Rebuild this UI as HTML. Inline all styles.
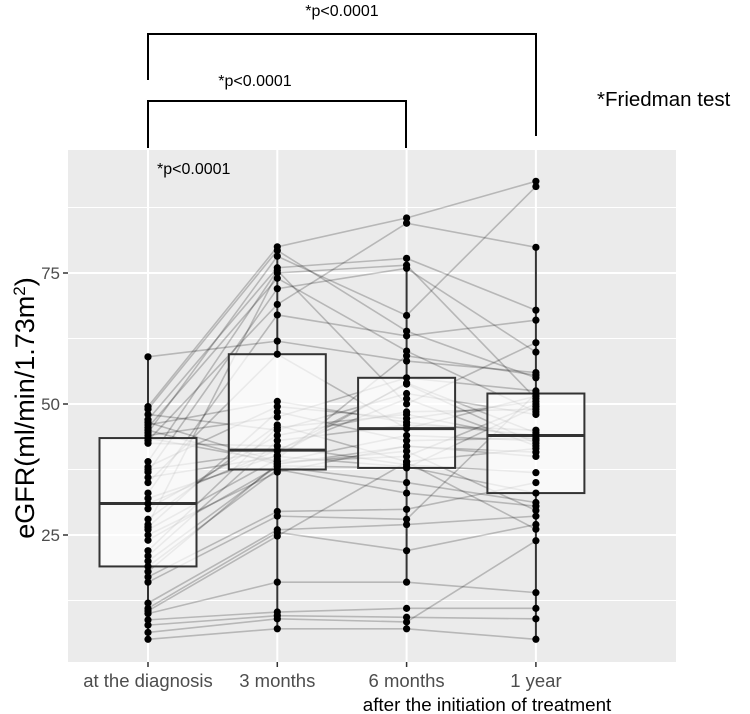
<!DOCTYPE html>
<html><head><meta charset="utf-8"><style>
body{margin:0;background:#fff}
svg{display:block;font-family:"Liberation Sans",Arial,sans-serif}
</style></head><body>
<svg id="chart" width="750" height="714" viewBox="0 0 750 714" xmlns="http://www.w3.org/2000/svg">
<rect x="68" y="150" width="608" height="512" fill="#ebebeb"/>
<g id="grid"></g>
<g id="lines"></g>
<g id="boxes"></g>
<g id="dots"></g>
<g id="axes"></g>
<text transform="translate(34,408) rotate(-90)" text-anchor="middle" font-size="27" fill="#000">eGFR(ml/min/1.73m<tspan baseline-shift="super" font-size="17">2</tspan>)</text>
<text x="487" y="711" text-anchor="middle" font-size="18.8" fill="#000">after the initiation of treatment</text>
<text x="157" y="174" font-size="16" fill="#000">*p&lt;0.0001</text>
<g stroke="#000" stroke-width="2" fill="none">
<polyline points="148,80 148,34 536,34 536,136"/>
</g>
<text x="342" y="16" text-anchor="middle" font-size="16" fill="#000">*p&lt;0.0001</text>
<g stroke="#000" stroke-width="2" fill="none">
<polyline points="148,148 148,101 406,101 406,148"/>
</g>
<text x="255" y="86" text-anchor="middle" font-size="16" fill="#000">*p&lt;0.0001</text>
<text x="597" y="106" font-size="20.5" fill="#000">*Friedman test</text>
</svg>
<script>
const categories = ["at the diagnosis","3 months","6 months","1 year"];
const yTicks = [25,50,75];
const yTickLabels = ["25","50","75"];
const diagnosis = [59,49.5,49,48,47,46.5,46,45.5,45,44.5,44,43.5,43,42.5,39,38,37.5,37,36,35,33,30,28,27,26.5,26,25,24,20,19,18,17,16,12,11,10.5,10,8.8,7.8,6.4,5.1,21,22,31,32];
const month3 = [62,80,79.3,45,76,39,50.5,74,38.5,78.2,47.5,39,69,42,75.5,49.5,41,72,40,59.5,67,44,46,75,48.5,39.5,37,38,38.2,37.5,38.6,29.5,28.6,26,25.5,24.8,16,10.3,9.6,9,7.1,43,45.5,41.2,40.2];
const month6 = [58.2,85.5,63.9,52,77.8,44,46.5,60.1,41.9,66.9,55,40,84.5,38.4,50,47.2,53.8,75.9,38,45.3,63,48.5,39,76.5,43,59.2,42,35,37.8,33,41,29.9,28,27,22,38.9,16,11,9.3,8.4,7.1,46,48,51,54];
const year1 = [56,92.5,55,48,67.9,43,44,48.5,40.8,91.5,52.5,50,79.9,36.9,61.7,50.5,42.5,59.9,33,51.5,66,49,41.5,51,43.5,55.5,40,31.2,49.5,30.5,29.7,35,52,28.6,27,26.1,14,11,9,23.9,5.1,45,43.2,42,44.5];
const series = [diagnosis, month3, month6, year1];

const NS = "http://www.w3.org/2000/svg";
const px0 = 68, px1 = 676, py0 = 150, py1 = 662;
function xScale(i){ return 148 + i * 129.3; }
function yScale(v){ return 666 - v * 5.24; }
function mk(tag, attrs, parent){
  const e = document.createElementNS(NS, tag);
  for (const k in attrs) e.setAttribute(k, attrs[k]);
  parent.appendChild(e); return e;
}
function quant(arr, p){
  const s = arr.slice().sort((a,b)=>a-b);
  const h = (s.length-1)*p, lo = Math.floor(h), hi = Math.ceil(h);
  return s[lo] + (s[hi]-s[lo])*(h-lo);
}
const grid = document.getElementById('grid');
[12.5,37.5,62.5,87.5].forEach(v=>{
  const l = mk('line',{x1:px0,x2:px1,y1:yScale(v),y2:yScale(v),stroke:'#fff','stroke-width':1},grid);
  
  
});
yTicks.forEach(v=>{
  const l = mk('line',{x1:px0,x2:px1,y1:yScale(v),y2:yScale(v),stroke:'#fff','stroke-width':2},grid);
  
  
});
categories.forEach((c,i)=>{
  const l = mk('line',{x1:xScale(i),x2:xScale(i),y1:py0,y2:py1,stroke:'#fff','stroke-width':2},grid);
  
  
});
const lines = document.getElementById('lines');
for (let p = 0; p < diagnosis.length; p++){
  const pts = series.map((s,i)=>xScale(i)+','+yScale(s[p])).join(' ');
  const pl = mk('polyline',{points:pts,fill:'none',stroke:'#000','stroke-opacity':0.22,'stroke-width':1.6},lines);
  
  
}
const boxes = document.getElementById('boxes');
series.forEach((s,i)=>{
  const q1 = quant(s,0.25), q2 = quant(s,0.5), q3 = quant(s,0.75);
  const iqr = q3-q1;
  const inside = s.filter(v=>v>=q1-1.5*iqr && v<=q3+1.5*iqr);
  const lo = Math.min(...inside), hi = Math.max(...inside);
  const x = xScale(i);
  const g = mk('g',{},boxes);
  
  
  mk('line',{x1:x,x2:x,y1:yScale(hi),y2:yScale(q3),stroke:'#333','stroke-width':2},g);
  mk('line',{x1:x,x2:x,y1:yScale(q1),y2:yScale(lo),stroke:'#333','stroke-width':2},g);
  mk('rect',{x:x-48.5,y:yScale(q3),width:97,height:yScale(q1)-yScale(q3),fill:'#fff','fill-opacity':0.7,stroke:'#333','stroke-width':2},g);
  mk('line',{x1:x-48.5,x2:x+48.5,y1:yScale(q2),y2:yScale(q2),stroke:'#333','stroke-width':3},g);
});
const dots = document.getElementById('dots');
series.forEach((s,i)=>{
  s.forEach(v=>{
    const c = mk('circle',{cx:xScale(i),cy:yScale(v),r:3.6,fill:'#000'},dots);
    
    
  });
});
const axes = document.getElementById('axes');
yTicks.forEach((v,k)=>{
  const t = mk('line',{x1:63,x2:68,y1:yScale(v),y2:yScale(v),stroke:'#333','stroke-width':1.5},axes);
  
  
  const tx = mk('text',{x:60,y:yScale(v)+6,'text-anchor':'end','font-size':17,fill:'#4d4d4d'},axes);
  tx.textContent = yTickLabels[k];
  
  
});
categories.forEach((c,i)=>{
  const t = mk('line',{x1:xScale(i),x2:xScale(i),y1:662,y2:667,stroke:'#333','stroke-width':1.5},axes);
  
  
  const tx = mk('text',{x:xScale(i),y:687,'text-anchor':'middle','font-size':18.5,fill:'#4d4d4d'},axes);
  tx.textContent = c;
  
  
});
</script>
</body></html>
